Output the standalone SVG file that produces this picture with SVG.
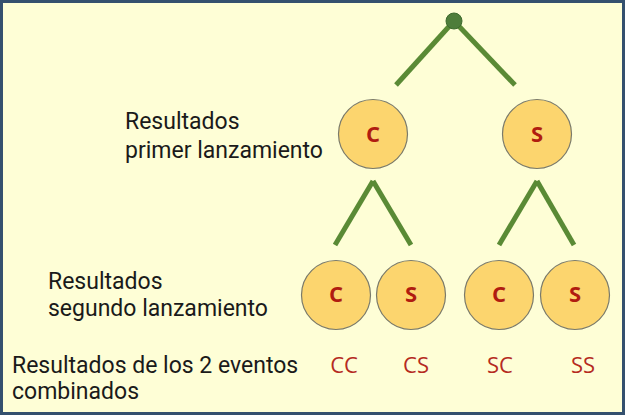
<svg xmlns="http://www.w3.org/2000/svg" width="625" height="415" viewBox="0 0 625 415">
<style>
.lbl{font-family:Roboto,"Liberation Sans",sans-serif;font-size:23px;fill:#1a1a1a}
.node circle{fill:#fcd56e;stroke:#7a7a6a;stroke-width:1.2}
.node text{font-family:"Open Sans","Liberation Sans",sans-serif;font-weight:bold;font-size:22px;fill:#b01c10;text-anchor:middle}
.res{font-family:"Open Sans","Liberation Sans",sans-serif;font-size:22px;fill:#b52a1f;text-anchor:middle}
.edge{stroke:#5a8a35;stroke-width:5;fill:none;stroke-linecap:butt}
</style>
<rect x="1.5" y="1.5" width="622" height="412" fill="#fefed6" stroke="#34506e" stroke-width="3"/>
<g id="connectors">
<line class="edge" x1="454" y1="21" x2="396" y2="85"/>
<line class="edge" x1="454" y1="21" x2="515" y2="85"/>
<line class="edge" x1="373" y1="181" x2="335" y2="245"/>
<line class="edge" x1="373" y1="181" x2="411" y2="245"/>
<line class="edge" x1="537" y1="181" x2="499" y2="245"/>
<line class="edge" x1="537" y1="181" x2="574" y2="245"/>
</g>
<g id="root"><circle cx="454" cy="21" r="8" fill="#4e7d3a" stroke="#3d6a2e" stroke-width="1"/></g>
<g id="n1C" class="node"><circle cx="373" cy="134" r="34.5"/><text x="373" y="142">C</text></g>
<g id="n1S" class="node"><circle cx="537" cy="134" r="34.5"/><text x="537" y="142">S</text></g>
<g id="n2CC" class="node"><circle cx="336" cy="295" r="34.5"/><text x="336" y="302">C</text></g>
<g id="n2CS" class="node"><circle cx="411" cy="295" r="34.5"/><text x="411" y="302">S</text></g>
<g id="n2SC" class="node"><circle cx="499" cy="295" r="34.5"/><text x="499" y="302">C</text></g>
<g id="n2SS" class="node"><circle cx="575" cy="295" r="34.5"/><text x="575" y="302">S</text></g>
<g id="labels">
<text class="lbl" x="125" y="129">Resultados</text>
<text class="lbl" x="125" y="158">primer lanzamiento</text>
<text class="lbl" x="48" y="289">Resultados</text>
<text class="lbl" x="48" y="316">segundo lanzamiento</text>
<text class="lbl" x="12" y="373">Resultados de los 2 eventos</text>
<text class="lbl" x="12" y="399">combinados</text>
</g>
<g id="results">
<text class="res" x="344" y="373">CC</text>
<text class="res" x="416" y="373">CS</text>
<text class="res" x="500" y="373">SC</text>
<text class="res" x="583" y="373">SS</text>
</g>
</svg>
